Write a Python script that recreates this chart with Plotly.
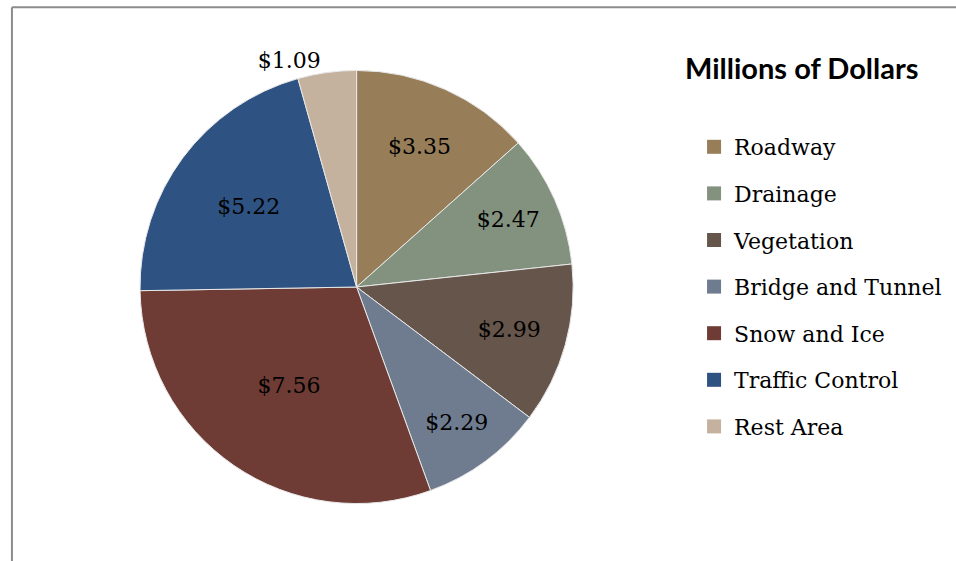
import plotly.graph_objects as go

categories = ["Roadway", "Drainage", "Vegetation", "Bridge and Tunnel",
              "Snow and Ice", "Traffic Control", "Rest Area"]
values = [3.35, 2.47, 2.99, 2.29, 7.56, 5.22, 1.09]
colors = ["#977E59", "#83917F", "#65554B", "#6F7C8F", "#6E3C34", "#2E5281", "#C4B29E"]
labels_text = ["$" + f"{v:.2f}" for v in values]
text_positions = ["inside"] * 6 + ["outside"]
legend_title = "Millions of Dollars"

fig = go.Figure()
fig.add_trace(go.Pie(
    labels=categories, values=values, text=labels_text, textinfo="text",
    textposition=text_positions, insidetextorientation="horizontal",
    sort=False, direction="clockwise", rotation=0,
    marker=dict(colors=colors, line=dict(color="#E8E8E8", width=1)),
    textfont=dict(family="DejaVu Serif", size=22, color="#000000"),
    domain=dict(x=[0.123, 0.623], y=[0.1024, 0.8744]),
    showlegend=False, hoverinfo="label+value",
))

for cat, col in zip(categories, colors):
    fig.add_trace(go.Scatter(
        x=[None], y=[None], mode="markers", name=cat, legendgroup=cat,
        marker=dict(symbol="square", size=14, color=col),
    ))

fig.add_annotation(text="<b>" + legend_title + "</b>", x=0.839, y=0.879,
                   xref="paper", yref="paper", xanchor="center", yanchor="middle",
                   showarrow=False,
                   font=dict(family="Lato", size=29, color="#000000"))

fig.update_layout(
    width=956, height=561,
    margin=dict(l=0, r=0, t=0, b=0),
    paper_bgcolor="white", plot_bgcolor="white",
    xaxis=dict(visible=False), yaxis=dict(visible=False),
    legend=dict(x=0.726, y=0.7754, xanchor="left", yanchor="top",
                font=dict(family="DejaVu Serif", size=22, color="#000000"),
                tracegroupgap=15, bgcolor="rgba(0,0,0,0)"),
    shapes=[
        dict(type="line", xref="paper", yref="paper", x0=0.0125, x1=1.0, y0=0.987, y1=0.987,
             line=dict(color="#8C8C8C", width=2)),
        dict(type="line", xref="paper", yref="paper", x0=0.0125, x1=0.0125, y0=0.0, y1=0.987,
             line=dict(color="#8C8C8C", width=2)),
    ],
)

fig.write_html("out.html", config={"displayModeBar": False},
               post_script="document.body.style.margin='0px';")
